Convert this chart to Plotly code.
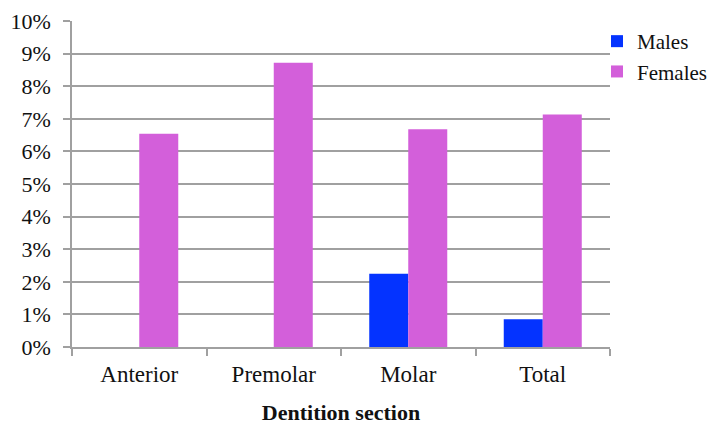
import plotly.graph_objects as go

categories = ["Anterior", "Premolar", "Molar", "Total"]
males = [0.0, 0.0, 0.0225, 0.0085]
females = [0.0654, 0.0872, 0.0668, 0.0713]
series_names = ["Males", "Females"]
y_ticks = [i / 100 for i in range(0, 11)]
y_tick_labels = [f"{i}%" for i in range(0, 11)]

FONT = "Liberation Serif"
GRID = "#a0a0a0"

fig = go.Figure()
fig.add_trace(go.Bar(x=categories, y=males, name=series_names[0],
                     marker=dict(color="#0433FF", line=dict(width=0))))
fig.add_trace(go.Bar(x=categories, y=females, name=series_names[1],
                     marker=dict(color="#D35FDA", line=dict(width=0))))

fig.update_layout(
    width=699, height=417,
    margin=dict(l=64, r=97, t=13, b=78, autoexpand=False),
    paper_bgcolor="white", plot_bgcolor="white",
    barmode="group", bargap=0.42, bargroupgap=0,
    font=dict(family=FONT, size=22, color="#111"),
    legend=dict(x=0.9758, y=1.0, xanchor="left", yanchor="top",
                font=dict(family=FONT, size=21), itemwidth=30,
                tracegroupgap=0, bgcolor="rgba(0,0,0,0)"),
    xaxis=dict(
        tickson="boundaries", ticks="outside", ticklen=7, tickcolor=GRID, tickwidth=1.5,
        showline=True, linecolor=GRID, linewidth=1.5,
        tickfont=dict(family=FONT, size=23), ticklabelstandoff=6,
        title=dict(text="<b>Dentition section</b>", font=dict(family=FONT, size=22), standoff=30),
    ),
    yaxis=dict(
        range=[0, 0.1], tickvals=y_ticks, ticktext=y_tick_labels,
        ticks="outside", ticklen=7, tickcolor=GRID, tickwidth=1.5,
        showline=True, linecolor=GRID, linewidth=1.5,
        showgrid=True, gridcolor=GRID, gridwidth=1.5,
        tickfont=dict(family=FONT, size=22), zeroline=False, ticklabelstandoff=8,
    ),
)

fig.write_html("out.html")
